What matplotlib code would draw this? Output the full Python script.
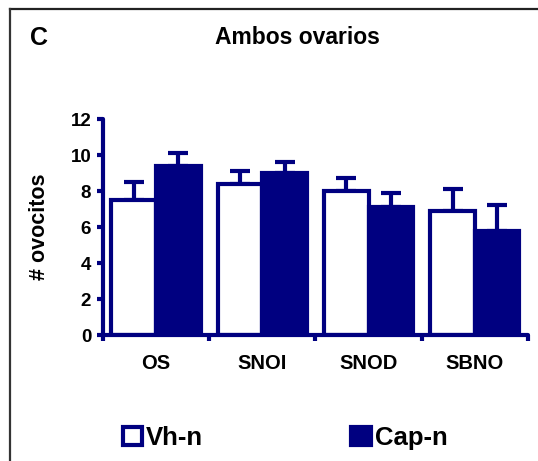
import numpy as np
import matplotlib.pyplot as plt
from matplotlib.lines import Line2D

plt.rcParams['font.family'] = ['Liberation Sans', 'DejaVu Sans']
plt.rcParams['font.weight'] = 'bold'

# Oocyte counts per group (mean and SEM)
categories = ['OS', 'SNOI', 'SNOD', 'SBNO']
vh_mean = [7.5, 8.4, 8.0, 6.9]
vh_err = [1.0, 0.7, 0.7, 1.2]
cap_mean = [9.4, 9.0, 7.1, 5.8]
cap_err = [0.7, 0.6, 0.8, 1.4]
yticks = [0, 2, 4, 6, 8, 10, 12]

navy = '#000080'
lw = 3.0

fig = plt.figure(figsize=(5.38, 4.61), dpi=100)
ax = fig.add_axes([0.1914, 0.2733, 0.79, 0.4685])

x = np.arange(len(categories))
w = 0.42
b1 = ax.bar(x - w/2, vh_mean, w, color='white', edgecolor=navy,
            linewidth=lw, label='Vh-n', zorder=2)
b2 = ax.bar(x + w/2, cap_mean, w, color=navy, edgecolor=navy,
            linewidth=lw, label='Cap-n', zorder=2)
for xs, m, e in [(x - w/2, vh_mean, vh_err), (x + w/2, cap_mean, cap_err)]:
    ax.errorbar(xs, m, yerr=[np.zeros(len(e)), e], fmt='none',
                ecolor=navy, elinewidth=lw, capsize=7, capthick=lw,
                zorder=1)

ax.set_xlim(-0.5, 3.5)
ax.set_ylim(0, 12)
ax.set_yticks(yticks)
ax.set_yticklabels([str(t) for t in yticks], fontsize=13.5, fontweight='bold')
ax.set_xticks(np.arange(-0.5, 4.0, 1.0))
ax.set_xticklabels([])
ax.set_xticks(x, minor=True)
ax.set_xticklabels(categories, minor=True, fontsize=14.5, fontweight='bold')
ax.tick_params(axis='x', which='minor', length=0, pad=14)
ax.tick_params(axis='both', which='major', length=4.5, width=lw,
               color=navy, direction='out')
ax.tick_params(axis='y', pad=4)

for s in ['top', 'right']:
    ax.spines[s].set_visible(False)
for s in ['left', 'bottom']:
    ax.spines[s].set_color(navy)
    ax.spines[s].set_linewidth(lw)
    ax.spines[s].set_capstyle('round')

ax.set_ylabel('# ovocitos', fontsize=15.5, fontweight='bold', labelpad=15)

fig.text(0.552, 0.918, 'Ambos ovarios', ha='center', va='center',
         fontsize=16.5, fontweight='bold')
fig.text(0.055, 0.918, 'C', ha='left', va='center',
         fontsize=18, fontweight='bold')

fig.legend(handles=[b1, b2], loc='center', bbox_to_anchor=(0.53, 0.05),
           ncol=2, frameon=False, handlelength=0.75,
           handleheight=0.75, handletextpad=0.15, columnspacing=5.77,
           prop={'weight': 'bold', 'size': 18.5})

# panel frame (top and left edges)
fig.add_artist(Line2D([9.5/538, 1.0], [1 - 9.5/461, 1 - 9.5/461],
                      color='#222222', linewidth=1.6,
                      transform=fig.transFigure))
fig.add_artist(Line2D([9.5/538, 9.5/538], [0.0, 1 - 9.5/461],
                      color='#333333', linewidth=1.6,
                      transform=fig.transFigure))

fig.savefig('out.png', dpi=100)
